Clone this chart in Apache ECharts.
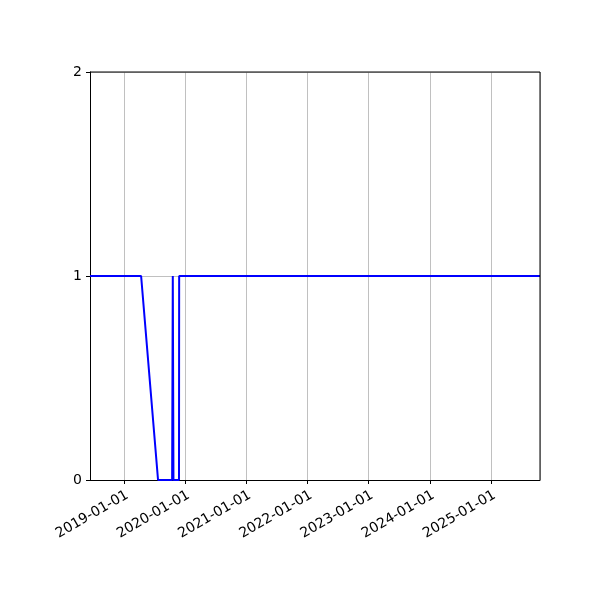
<!DOCTYPE html>
<html>
<head>
<meta charset="utf-8">
<script src="https://cdn.jsdelivr.net/npm/echarts@6/dist/echarts.min.js"></script>
<style>html,body{margin:0;padding:0;background:#fff}#c{width:600px;height:600px}</style>
</head>
<body>
<div id="c"></div>
<script>
const dates = ['2018-06-13','2019-04-14','2019-07-24','2019-10-16','2019-10-20','2019-10-24','2019-11-26','2019-11-27','2025-10-19'];
const values = [1,1,0,0,1,0,0,1,1];
const xMin = '2018-06-13';
const xMax = '2025-10-19';
const yTicks = [0,1,2];

const chart = echarts.init(document.getElementById('c'), null, {renderer:'canvas'});
const font = 'DejaVu Sans';
chart.setOption({
  animation:false,
  grid:{left:90,right:60,top:72,bottom:120,containLabel:false},
  xAxis:{
    type:'time',
    min: +new Date(xMin+'T00:00:00Z'),
    max: +new Date(xMax+'T00:00:00Z'),
    minInterval: 365*24*3600*1000,
    maxInterval: 366*24*3600*1000,
    axisLine:{show:true,lineStyle:{color:'#000',width:1}},
    axisTick:{show:true,inside:false,length:4,lineStyle:{color:'#000',width:1}},
    splitLine:{show:true,lineStyle:{color:'#b0b0b0',width:0.8}},
    minorTick:{show:false},
    axisLabel:{
      rotate:30, color:'#000', fontFamily:font, fontSize:14, margin:8,
      align:'right', verticalAlign:'top',
      showMinLabel:false, showMaxLabel:false,
      formatter:function(v){const d=new Date(v);return d.getUTCFullYear()+'-01-01';}
    }
  },
  yAxis:{
    type:'value', min:0, max:2, interval:1,
    axisLine:{show:true,lineStyle:{color:'#000',width:1}},
    axisTick:{show:true,length:4,lineStyle:{color:'#000',width:1}},
    splitLine:{show:true,lineStyle:{color:'#b0b0b0',width:0.8}},
    axisLabel:{color:'#000',fontFamily:font,fontSize:14,margin:8,
      formatter:function(v){return yTicks.includes(v)?String(v):'';}}
  },
  series:[{
    type:'line',
    data: dates.map((d,i)=>[+new Date(d+'T00:00:00Z'), values[i]]),
    showSymbol:false, symbol:'none',
    lineStyle:{color:'#0000ff',width:2},
    clip:true
  }]
});
const r = chart.convertToPixel({gridIndex:0}, [+new Date(xMax+'T00:00:00Z'), 2]);
const l = chart.convertToPixel({gridIndex:0}, [+new Date(xMin+'T00:00:00Z'), 0]);
chart.setOption({graphic:[
  {type:'line',shape:{x1:l[0],y1:r[1],x2:r[0],y2:r[1]},style:{stroke:'#000',lineWidth:1},z:100},
  {type:'line',shape:{x1:r[0],y1:r[1],x2:r[0],y2:l[1]},style:{stroke:'#000',lineWidth:1},z:100}
]});
</script>
</body>
</html>
